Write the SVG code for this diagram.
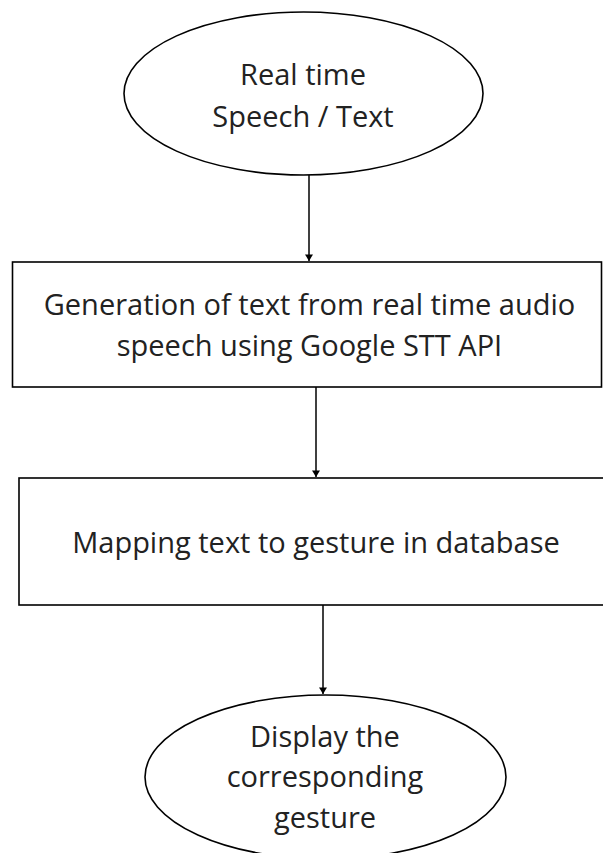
<svg xmlns="http://www.w3.org/2000/svg" width="603" height="853" viewBox="0 0 603 853">
<style>
.shape{fill:#fff;stroke:#000;stroke-width:1.6}
.lbl{font-family:"Open Sans","Liberation Sans",sans-serif;font-size:29px;fill:#222;text-anchor:middle}
.conn{stroke:#000;stroke-width:1.5;fill:none}
</style>
<defs>
<marker id="ah" viewBox="0 0 8 10" refX="8" refY="5" markerWidth="10" markerHeight="8" markerUnits="userSpaceOnUse" orient="auto">
<path d="M0,0 L8,5 L0,10 Z" fill="#000"/>
</marker>
</defs>
<rect width="603" height="853" fill="#fff"/>
<g id="start">
<ellipse class="shape" cx="303.5" cy="93.5" rx="179.5" ry="81.5"/>
<text class="lbl" x="303" y="85">Real time</text>
<text class="lbl" x="303" y="127">Speech / Text</text>
</g>
<g id="stt">
<rect class="shape" x="12.5" y="262" width="589" height="125"/>
<text class="lbl" x="309.5" y="315">Generation of text from real time audio</text>
<text class="lbl" x="309.5" y="356">speech using Google STT API</text>
</g>
<g id="mapping">
<rect class="shape" x="19" y="478" width="585" height="127"/>
<text class="lbl" x="316" y="553">Mapping text to gesture in database</text>
</g>
<g id="display">
<ellipse class="shape" cx="325.5" cy="777" rx="180.5" ry="82"/>
<text class="lbl" x="325" y="747">Display the</text>
<text class="lbl" x="325" y="787">corresponding</text>
<text class="lbl" x="325" y="828">gesture</text>
</g>
<g id="connectors">
<line class="conn" x1="309" y1="175" x2="309" y2="261" marker-end="url(#ah)"/>
<line class="conn" x1="316" y1="387" x2="316" y2="477" marker-end="url(#ah)"/>
<line class="conn" x1="323" y1="605" x2="323" y2="694" marker-end="url(#ah)"/>
</g>
</svg>
